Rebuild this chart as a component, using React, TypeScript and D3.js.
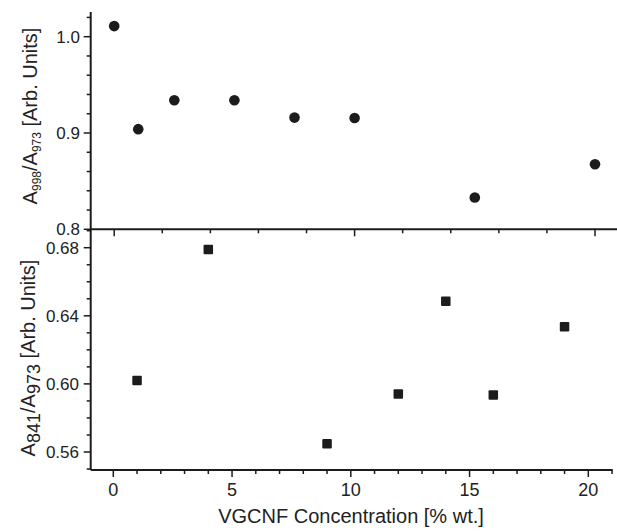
import React from "react";
import * as d3 from "d3";

const topX = [0, 1, 2.5, 5, 7.5, 10, 15, 20];
const topY = [1.011, 0.904, 0.934, 0.934, 0.916, 0.9155, 0.833, 0.8675];
const botX = [1, 4, 9, 12, 14, 16, 19];
const botY = [0.602, 0.679, 0.5648, 0.5941, 0.6485, 0.5935, 0.6335];

const topYTicks = [0.8, 0.9, 1.0];
const botYTicks = [0.56, 0.6, 0.64, 0.68];
const botXTicks = [0, 5, 10, 15, 20];

const W = 617;
const H = 532;
const INK = "#1c1c1c";
const FONT = "'Liberation Sans', Arial, Helvetica, sans-serif";

export default function App() {
  const left = 90.7;
  const xTop = d3.scaleLinear().domain([0, 20]).range([114.2, 595]);
  const xBot = d3.scaleLinear().domain([0, 20]).range([113.3, 588.3]);
  const yTop = d3.scaleLinear().domain([0.8, 1.0]).range([229.3, 36.7]);
  const yBot = d3.scaleLinear().domain([0.56, 0.68]).range([452, 247.7]);
  const topPanelTop = 12;
  const mid = 229.3;
  const bottom = 470;
  const botRight = 612.7;

  const topYMinor = d3.range(0.8, 1.0201, 0.02).map((v) => +v.toFixed(2));
  const botYMinor = d3.range(0.55, 0.6901, 0.01).map((v) => +v.toFixed(2));
  const topXMinor = d3.range(0, 20.01, 2);
  const botXMinor = d3.range(0, 21.01, 1);

  const sq = 9.5;

  return (
    <svg
      width={W}
      height={H}
      style={{ position: "absolute", left: 0, top: 0, background: "#fff" }}
      fontFamily={FONT}
    >
      <rect x={0} y={0} width={W} height={H} fill="#fff" />
      <line x1={left} y1={topPanelTop} x2={left} y2={bottom} stroke={INK} strokeWidth={2} />
      <line x1={left} y1={mid} x2={617} y2={mid} stroke={INK} strokeWidth={2} />
      <line x1={left} y1={bottom} x2={botRight} y2={bottom} stroke={INK} strokeWidth={2} />

      {topYMinor.map((v) => {
        const major = topYTicks.some((t) => Math.abs(t - v) < 1e-6);
        return (
          <line key={"tym" + v} x1={left} x2={left - (major ? 7 : 4)} y1={yTop(v)} y2={yTop(v)} stroke={INK} strokeWidth={1.5} />
        );
      })}
      {topYTicks.map((v) => (
        <text key={"tyl" + v} x={80} y={yTop(v)} dy="0.36em" textAnchor="end" fontSize={17} fill="#222">
          {v.toFixed(1)}
        </text>
      ))}

      {botYMinor.map((v) => {
        const major = botYTicks.some((t) => Math.abs(t - v) < 1e-6);
        return (
          <line key={"bym" + v} x1={left} x2={left - (major ? 7 : 4)} y1={yBot(v)} y2={yBot(v)} stroke={INK} strokeWidth={1.5} />
        );
      })}
      {botYTicks.map((v) => (
        <text key={"byl" + v} x={79} y={yBot(v)} dy="0.36em" textAnchor="end" fontSize={17} fill="#222">
          {v.toFixed(2)}
        </text>
      ))}

      {topXMinor.map((v) => {
        const major = v % 10 === 0;
        return (
          <line key={"txm" + v} x1={xTop(v)} x2={xTop(v)} y1={mid} y2={mid + (major ? 7 : 4)} stroke={INK} strokeWidth={1.5} />
        );
      })}

      {botXMinor.map((v) => {
        const major = v % 5 === 0;
        return (
          <line key={"bxm" + v} x1={xBot(v)} x2={xBot(v)} y1={bottom} y2={bottom + (major ? 7 : 4)} stroke={INK} strokeWidth={1.5} />
        );
      })}
      {botXTicks.map((v) => (
        <text key={"bxl" + v} x={xBot(v)} y={490} dy="0.36em" textAnchor="middle" fontSize={18} fill="#222">
          {v}
        </text>
      ))}

      {topX.map((x, i) => (
        <circle key={"c" + i} cx={xTop(x)} cy={yTop(topY[i])} r={5.3} fill={INK} />
      ))}
      {botX.map((x, i) => (
        <rect key={"s" + i} x={xBot(x) - sq / 2} y={yBot(botY[i]) - sq / 2} width={sq} height={sq} rx={1} fill={INK} />
      ))}

      <text x={351} y={516} dy="0.36em" textAnchor="middle" fontSize={20} fill="#222">
        VGCNF Concentration [% wt.]
      </text>
      <text transform="translate(37,116) rotate(-90)" textAnchor="middle" fontSize={20} fill="#222">
        A<tspan fontSize={12} dy={4}>998</tspan>
        <tspan dy={-4}>/A</tspan>
        <tspan fontSize={12} dy={4}>973</tspan>
        <tspan dy={-4}> [Arb. Units]</tspan>
      </text>
      <text transform="translate(35,358) rotate(-90)" textAnchor="middle" fontSize={20} fill="#222">
        A<tspan fontSize={18} dy={5}>841</tspan>
        <tspan dy={-5}>/A</tspan>
        <tspan fontSize={18} dy={5}>973</tspan>
        <tspan dy={-5}> [Arb. Units]</tspan>
      </text>
    </svg>
  );
}
